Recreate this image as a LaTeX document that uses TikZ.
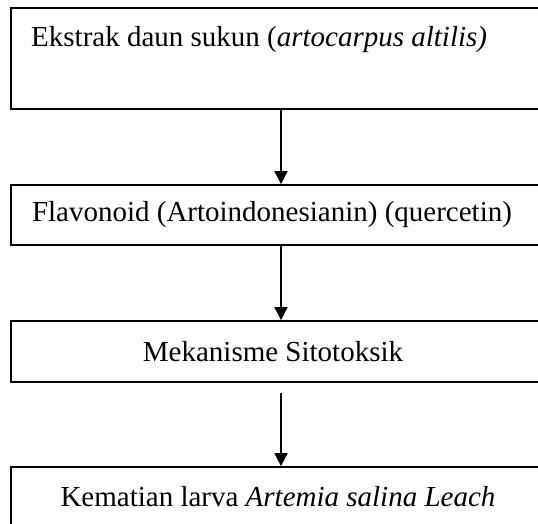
\documentclass[tikz,border=0pt]{standalone}
\usepackage{fontspec}
\setmainfont{Liberation Serif}
\usepackage{tikz}
\usetikzlibrary{positioning, arrows.meta}

\begin{document}
\begin{tikzpicture}[x=1pt, y=-1pt,
    flowbox/.style={draw, line width=1.7pt, minimum width=534pt, inner sep=0pt},
    flowtext/.style={font=\fontsize{29}{34}\selectfont},
    flowarrow/.style={line width=1.7pt, -{Triangle[length=13pt, width=13pt]}}]
    \clip (0,0) rectangle (538,523);

    % Boxes
    \node[flowbox, minimum height=101pt] (ekstrak) at (278,58.5) {};
    \node[flowbox, minimum height=60pt, flowtext] (flavonoid) at (278,215) {\hspace{-12pt}Flavonoid (Artoindonesianin) (quercetin)};
    \node[flowbox, minimum height=61pt, flowtext] (mekanisme) at (278,351.5) {\hspace{-10pt}Mekanisme Sitotoksik};
    \node[flowbox, minimum height=60pt, flowtext] (kematian) at (278,497) {Kematian larva \textit{Artemia salina Leach}};

    % Text of the first box sits at its top
    \node[flowtext, anchor=base west, inner sep=0pt] (ekstraktext) at (31,46) {Ekstrak daun sukun (\textit{artocarpus altilis)}};

    % Arrows
    \draw[flowarrow] ([xshift=3pt]ekstrak.south) -- ([xshift=3pt]flavonoid.north);
    \draw[flowarrow] ([xshift=3pt]flavonoid.south) -- ([xshift=3pt]mekanisme.north);
    \draw[flowarrow] ([xshift=3pt, yshift=-10pt]mekanisme.south) -- ([xshift=3pt]kematian.north);
  \end{tikzpicture}
\end{document}
